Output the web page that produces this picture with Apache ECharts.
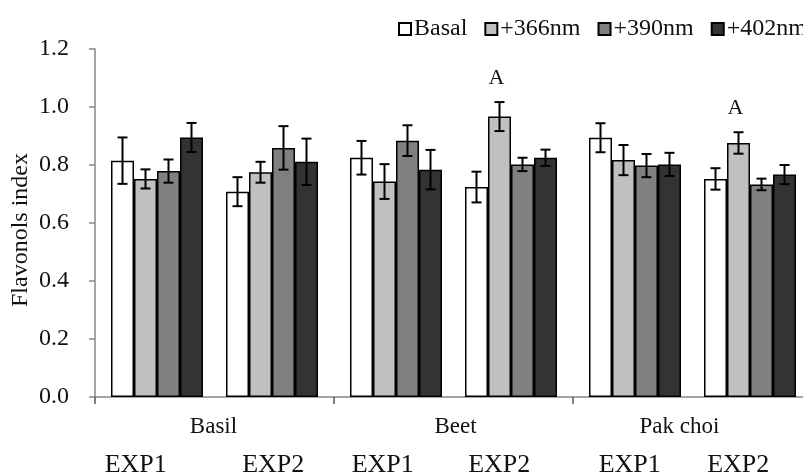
<!DOCTYPE html>
<html>
<head>
<meta charset="utf-8">
<script src="https://cdn.jsdelivr.net/npm/echarts@6/dist/echarts.min.js"></script>
<style>html,body{margin:0;padding:0;background:#fff;}#c{width:803px;height:472px;}</style>
</head>
<body>
<div id="c"></div>
<script>
// categories: plant species; each has two experiments (EXP1, EXP2)
const groups = ['Basil', 'Beet', 'Pak choi'];
const experiments = ['EXP1', 'EXP2', 'EXP1', 'EXP2', 'EXP1', 'EXP2'];
const seriesNames = ['Basal', '+366nm', '+390nm', '+402nm'];
// values in order: Basil EXP1, Basil EXP2, Beet EXP1, Beet EXP2, Pak choi EXP1, Pak choi EXP2
const basal = [0.815, 0.708, 0.825, 0.724, 0.894, 0.752];
const nm366 = [0.752, 0.775, 0.743, 0.967, 0.817, 0.876];
const nm390 = [0.779, 0.859, 0.884, 0.802, 0.798, 0.733];
const nm402 = [0.895, 0.811, 0.784, 0.825, 0.802, 0.767];
const errBasal = [0.080, 0.050, 0.058, 0.053, 0.050, 0.037];
const err366 = [0.033, 0.036, 0.060, 0.050, 0.052, 0.037];
const err390 = [0.040, 0.075, 0.053, 0.023, 0.040, 0.020];
const err402 = [0.050, 0.080, 0.068, 0.028, 0.040, 0.033];
const letters366 = ['', '', '', 'A', '', 'A'];
const yTicks = [0, 0.2, 0.4, 0.6, 0.8, 1.0, 1.2];

// ---- styling ----
const values = [basal, nm366, nm390, nm402];
const errors = [errBasal, err366, err390, err402];
const letters = [null, letters366, null, null];
const colors = ['#ffffff', '#c0c0c0', '#808080', '#333333'];
const BAR_W = 23;
const FONT = '"Liberation Serif", "Times New Roman", serif';
const expShift = [-19, -1, -11, -14, -3, -14];
const groupShift = [-1, 2, -13];

function pick(arr, exp) { return arr.filter((_, k) => k % 2 === exp); }
function shiftPad(s) { return [0, s < 0 ? -2 * s : 0, 0, s > 0 ? 2 * s : 0]; }

const series = [];
// slots: 0..3 EXP1 bars, 4 spacer, 5..8 EXP2 bars
[0, 1].forEach(exp => {
  seriesNames.forEach((name, i) => {
    series.push({
      name: name,
      type: 'bar',
      xAxisIndex: 0,
      barWidth: BAR_W,
      barGap: '0%',
      data: pick(values[i], exp),
      itemStyle: { color: colors[i], borderColor: '#000', borderWidth: 1.5 },
      emphasis: { disabled: true },
      z: 2
    });
  });
  if (exp === 0) {
    series.push({ name: 'spacer', type: 'bar', xAxisIndex: 0, barWidth: BAR_W, barGap: '0%',
                  data: [null, null, null], silent: true });
  }
});

[0, 1].forEach(exp => {
  seriesNames.forEach((name, i) => {
    const slot = exp * 5 + i;
    const vals = pick(values[i], exp), errs = pick(errors[i], exp);
    const lets = letters[i] ? pick(letters[i], exp) : ['', '', ''];
    series.push({
      name: name + '_err' + exp,
      type: 'custom',
      xAxisIndex: 0,
      z: 5,
      silent: true,
      data: vals.map((v, k) => [k, v, errs[k], lets[k]]),
      encode: { x: 0, y: 1 },
      renderItem: function (params, api) {
        const k = api.value(0), v = api.value(1), e = api.value(2);
        const c = api.coord([k, v]);
        const x = c[0] + (slot - 4) * BAR_W;
        const yTop = api.coord([k, v + e])[1];
        const yBot = api.coord([k, v - e])[1];
        const hw = 5;
        const st = { stroke: '#000', lineWidth: 2 };
        const children = [
          { type: 'line', shape: { x1: x, y1: yTop, x2: x, y2: yBot }, style: st },
          { type: 'line', shape: { x1: x - hw, y1: yTop, x2: x + hw, y2: yTop }, style: st },
          { type: 'line', shape: { x1: x - hw, y1: yBot, x2: x + hw, y2: yBot }, style: st }
        ];
        const letter = api.value(3);
        if (letter) {
          children.push({
            type: 'text',
            style: { text: letter, x: x - 3, y: yTop - 24, align: 'center', verticalAlign: 'middle',
                     font: '22px ' + FONT, fill: '#111' }
          });
        }
        return { type: 'group', children: children };
      }
    });
  });
});

const chart = echarts.init(document.getElementById('c'), null, { renderer: 'canvas' });
chart.setOption({
  animation: false,
  backgroundColor: '#fff',
  textStyle: { fontFamily: FONT },
  legend: {
    data: seriesNames,
    left: 393,
    top: 12,
    width: 600,
    itemWidth: 12,
    itemHeight: 12,
    itemGap: 17,
    icon: 'rect',
    selectedMode: false,
    textStyle: { fontFamily: FONT, fontSize: 24, color: '#111', padding: [0, 0, 0, -2] }
  },
  grid: { left: 95, top: 49, width: 717, height: 348, containLabel: false, outerBoundsMode: 'none' },
  xAxis: [
    {
      type: 'category',
      data: groups.map((g, k) => ({ value: g, textStyle: { padding: shiftPad(groupShift[k]) } })),
      position: 'bottom',
      axisLine: { show: true, lineStyle: { color: '#868686', width: 1.5 } },
      axisTick: { show: true, length: 7, lineStyle: { color: '#555', width: 1.5 } },
      axisLabel: { fontFamily: FONT, fontSize: 23, color: '#111', margin: 18 }
    },
    {
      type: 'category',
      data: experiments.map((e, k) => ({ value: e, textStyle: { padding: shiftPad(expShift[k]) } })),
      position: 'bottom',
      axisLine: { show: false },
      axisTick: { show: false },
      axisLabel: { fontFamily: FONT, fontSize: 26, color: '#111', margin: 55 }
    }
  ],
  yAxis: {
    type: 'value',
    min: 0,
    max: 1.2,
    interval: 0.2,
    name: 'Flavonols index',
    nameLocation: 'middle',
    nameRotate: 90,
    nameGap: 62,
    nameMoveOverlap: false,
    nameTextStyle: { fontFamily: FONT, fontSize: 24, color: '#111', padding: [0, 14, 0, 0] },
    axisLine: { show: true, lineStyle: { color: '#868686', width: 1.5 } },
    axisTick: { show: true, length: 6, lineStyle: { color: '#868686', width: 1.5 } },
    splitLine: { show: false },
    axisLabel: {
      fontFamily: FONT, fontSize: 24, color: '#111', margin: 26,
      formatter: v => yTicks.includes(Math.round(v * 10) / 10) ? v.toFixed(1) : ''
    }
  },
  series: series
});
</script>
</body>
</html>
